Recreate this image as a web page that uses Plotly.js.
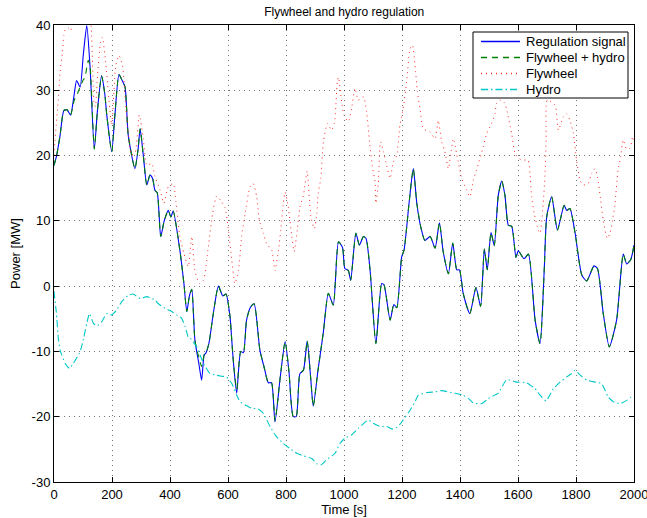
<!DOCTYPE html>
<html>
<head>
<meta charset="utf-8">
<script src="https://cdn.plot.ly/plotly-3.0.1.min.js"></script>
<style>html,body{margin:0;padding:0;background:#fff;}#chart{width:647px;height:518px;}</style>
</head>
<body>
<div id="chart"></div>
<script>
// Regulation signal
const tReg = [0,9,21,34,45,57,70,78,90,101,113,124,139,150,164,175,182,199,210,224,235,245,256,279,290,297,308,320,331,340,348,356,368,380,394,403,411,434,448,458,467,475,486,500,509,518,523,534,550,567,582,593,607,613,619,630,644,653,664,678,690,710,725,739,750,762,780,797,810,825,835,848,860,873,885,894,910,929,946,963,981,995,1003,1015,1023,1041,1053,1067,1076,1090,1110,1130,1138,1159,1172,1182,1199,1207,1225,1239,1251,1265,1279,1297,1314,1329,1342,1360,1375,1389,1398,1411,1434,1455,1471,1484,1494,1507,1518,1532,1544,1555,1567,1578,1593,1601,1621,1636,1659,1676,1690,1699,1716,1736,1759,1768,1779,1797,1820,1837,1862,1874,1894,1915,1940,1963,1975,1989,2000];
const reg = [18.5,20,23.1,26.9,27.0,26.2,29.5,31.5,30.5,35.4,39.9,33.8,21,27,32.2,29.5,26.2,20.6,26.2,32.4,31.5,30.5,23.1,18.0,21,24.1,20,15.5,17,16.5,14.7,14.3,7.6,10,11.6,10.6,11.5,5.5,0.4,-3.9,-1.5,-0.5,-8.3,-12,-14.4,-10.5,-10.3,-8.8,-4,0,-1.5,-1.2,-4.7,-8.3,-11.8,-16.4,-10,-10.2,-5.2,-3.2,-2.7,-9.8,-12.5,-14.8,-14.8,-20.8,-14,-8.5,-13,-20,-20,-13.4,-12.9,-8.4,-14,-18.4,-13,-7,-1.1,-2.9,6.8,5.9,2.7,2.4,0.9,8.1,6.3,7.6,7.3,2.4,-8.8,0.4,0.2,-5.2,-2.8,-3.3,4.5,5.5,13,18,12.7,9,7.0,7.6,5.8,9.7,5.3,1.9,6.6,2.5,2.5,-1.1,-4.2,-0.2,-3.1,5.7,2.5,8.2,6.2,13.9,16.1,13.9,9.3,9.2,4.4,5.4,4.2,4.9,-5.2,-8.8,2,10.6,13.7,8.6,12.4,11.6,11.9,8.1,1.7,0.8,3.1,2.7,-4.2,-9.3,-5.2,4.9,3.4,4.1,6.3];

// Flywheel + hydro
const tFH = [0,9,21,34,45,57,70,78,90,101,107,113,118,124,139,150,164,175,182,199,210,224,235,245,256,279,290,297,308,320,331,340,348,356,368,380,394,403,411,434,448,458,467,475,486,500,509,518,523,534,550,567,582,593,607,613,619,630,644,653,664,678,690,710,725,739,750,762,780,797,810,825,835,848,860,873,885,894,910,929,946,963,981,995,1003,1015,1023,1041,1053,1067,1076,1090,1110,1130,1138,1159,1172,1182,1199,1207,1225,1239,1251,1265,1279,1297,1314,1329,1342,1360,1375,1389,1398,1411,1434,1455,1471,1484,1494,1507,1518,1532,1544,1555,1567,1578,1593,1601,1621,1636,1659,1676,1690,1699,1716,1736,1759,1768,1779,1797,1820,1837,1862,1874,1894,1915,1940,1963,1975,1989,2000];
const fh = [18.5,20,23.1,26.9,27.0,26.2,28.5,29.2,30.5,31.6,32,33.5,34.6,33.8,21,27,32.2,29.5,26.2,20.6,26.2,32.4,31.5,30.5,23.1,18.0,21,24.1,20,15.5,17,16.5,14.7,14.3,7.6,10,11.6,10.6,11.5,5.5,0.4,-3.9,-1.5,-0.5,-8.3,-11,-12.3,-10.5,-10.3,-8.8,-4,0,-1.5,-1.2,-4.7,-8.3,-11.8,-15.8,-10,-10.2,-5.2,-3.2,-2.7,-9.8,-12.5,-14.8,-14.8,-20.6,-14,-8.5,-13,-20,-20,-13.4,-12.9,-8.4,-14,-18.4,-13,-7,-1.1,-2.9,6.8,5.9,2.7,2.4,0.9,8.1,6.3,7.6,7.3,2.4,-8.8,0.4,0.2,-5.2,-2.8,-3.3,4.5,5.5,13,18,12.7,9,7.0,7.6,5.8,9.7,5.3,1.9,6.6,2.5,2.5,-1.1,-4.2,-0.2,-3.1,5.7,2.5,8.2,6.2,13.9,16.1,13.9,9.3,9.2,4.4,5.4,4.2,4.9,-5.2,-8.8,2,10.6,13.7,8.6,12.4,11.6,11.9,8.1,1.7,0.8,3.1,2.7,-4.2,-9.3,-5.2,4.9,3.4,4.1,6.3];

// Flywheel
const tFly = [0,3,15,21,29,34,40,50,57,65,85,110,128,133,138,143,149,161,167,178,187,199,213,224,236,250,268,280,294,308,320,337,348,366,379,394,411,420,434,448,463,475,486,501,515,532,547,561,578,590,601,613,624,636,647,659,676,687,699,708,722,733,751,762,774,782,791,797,808,820,828,839,848,860,866,873,886,898,906,911,920,929,943,957,967,977,981,992,1000,1015,1026,1038,1049,1067,1078,1088,1099,1107,1110,1118,1126,1136,1147,1159,1170,1182,1193,1204,1216,1228,1236,1245,1253,1262,1274,1297,1314,1325,1337,1348,1360,1377,1389,1406,1423,1434,1446,1457,1480,1492,1509,1521,1526,1540,1555,1561,1578,1590,1605,1618,1635,1641,1647,1656,1670,1676,1687,1693,1697,1701,1728,1739,1756,1768,1779,1791,1802,1814,1825,1842,1854,1866,1874,1885,1894,1908,1917,1926,1934,1945,1954,1963,1973,1986,1995,2000];
const fly = [20,22.1,28.7,32.8,35.8,38.4,39.4,39.5,39.1,41,45,47,40,34,28.2,27.5,31.7,37.4,38.1,34.3,29.8,24.7,33.8,35.3,33.8,26.2,20.1,20.5,26.2,22.6,18.5,18.8,16.8,14.7,12.7,15.2,15.7,13,7.6,5,3,7.6,2.4,0.4,0.9,6,11.1,13.8,12.9,12,8.8,4.0,0.4,2.4,7.6,11.1,15.2,15.7,13.7,10.1,8.1,6.5,5.5,2.4,5.5,8.6,12.7,14.4,12.1,7.6,5.3,8.6,12.1,13.9,15.7,17.6,10.6,8.8,11.1,14.2,16.5,22.1,24.9,23.9,25,31.3,32.0,28.2,26.2,25.2,27.2,30.3,28.5,29.0,26.7,22.1,18.0,16.0,12.7,15.7,22.1,20.6,18.5,16.5,19,20.1,24.7,27.2,31.3,36.4,36.9,33.8,29.8,27.2,24.1,23.6,22.6,25.4,22.1,20.6,18,22.6,20.1,16.5,14.7,13.7,16.2,17.8,21.3,23.4,24.9,26.4,28,28.5,28,27,23.4,20.3,19.5,19.3,19.3,17.3,13.7,11.1,8.6,8.1,12.7,17,22.4,28.5,27.7,23.9,25.9,26.4,25.4,23.4,19.3,16.2,15.5,15.7,17.3,18,16.7,13.2,10.1,7.3,8.1,10.1,12.4,17.8,19.8,22.4,21.1,21.1,22.9,22];

// Hydro
const tHyd = [0,8,15,21,38,53,67,87,95,103,113,122,136,149,164,182,199,216,233,256,273,297,320,348,360,383,406,423,440,452,463,470,492,515,538,555,578,595,613,630,641,659,682,704,722,745,768,791,814,837,860,889,906,920,940,969,986,1003,1026,1049,1084,1101,1124,1147,1168,1187,1204,1228,1245,1256,1285,1314,1337,1360,1383,1411,1429,1446,1475,1498,1532,1561,1595,1630,1659,1676,1697,1722,1745,1768,1785,1797,1814,1837,1866,1888,1911,1929,1952,1975,1989,2000];
const hyd = [-0.8,-4,-8,-9.8,-11.8,-12.6,-11.8,-10.3,-9.3,-7.8,-5.7,-4.2,-5.7,-6.1,-5.5,-4.2,-4.4,-3.7,-2.4,-1.4,-1.2,-1.9,-1.6,-2.1,-2.7,-3.4,-3.9,-4.4,-4.9,-6.2,-7.8,-8,-9.3,-11.8,-13.4,-13.6,-13.8,-13.9,-14.9,-16.7,-17.7,-18.2,-18.7,-18.8,-19.5,-21.5,-23.1,-24.1,-24.9,-25.6,-26,-26.4,-27.2,-27.4,-26.6,-25.6,-24.1,-23.3,-22.8,-21.8,-20.5,-21,-21.5,-21.5,-21.9,-21.5,-20.5,-19,-17.7,-16.7,-16.3,-16.2,-16,-16.2,-16.4,-16.7,-17.2,-17.9,-18,-17.2,-16.4,-14.3,-14.7,-14.8,-15.7,-16.7,-17.6,-15.7,-14.7,-13.9,-13.4,-12.9,-13.6,-14.4,-14.7,-14.9,-17,-17.7,-18,-17.5,-17,-16.8];

const seriesNames = ['Regulation signal', 'Flywheel + hydro', 'Flywheel', 'Hydro'];
const xTicks = [0,200,400,600,800,1000,1200,1400,1600,1800,2000];
const yTicks = [-30,-20,-10,0,10,20,30,40];
const yTickText = ['-30','-20','-10','0','10','20','30','40'];

const FONT = 'Liberation Sans, Arial, Helvetica, sans-serif';
const colors = ['rgb(0,0,255)', 'rgb(0,128,0)', 'rgb(255,40,40)', 'rgb(0,200,200)'];
const dashes = ['solid', '6px,5px', '1px,4px', '7px,3px,1.5px,3px'];
const widths = [1.1, 1.1, 1, 1.1];

const traces = [
  {x: tReg, y: reg, name: seriesNames[0], mode: 'lines', line: {color: colors[0], width: widths[0], dash: dashes[0], shape: 'spline', smoothing: 0.6}},
  {x: tFH, y: fh, name: seriesNames[1], mode: 'lines', line: {color: colors[1], width: widths[1], dash: dashes[1], shape: 'spline', smoothing: 0.6}},
  {x: tFly, y: fly, name: seriesNames[2], mode: 'lines', line: {color: colors[2], width: widths[2], dash: dashes[2], shape: 'spline', smoothing: 0.6}},
  {x: tHyd, y: hyd, name: seriesNames[3], mode: 'lines', line: {color: colors[3], width: widths[3], dash: dashes[3], shape: 'spline', smoothing: 0.4}}
];

// Legend drawn on an overlay unit-square subplot (pixel -> fraction of the plot area)
const L = 54, R = 634, T = 25, B = 482;
const px = v => (v - L) / (R - L);
const py = v => (B - v) / (B - T);
traces.push({x: [px(473), px(628), px(628), px(473), px(473)], y: [py(98), py(98), py(32), py(32), py(98)],
  xaxis: 'x2', yaxis: 'y2', mode: 'lines', fill: 'toself', fillcolor: '#ffffff',
  line: {color: '#000000', width: 1}, showlegend: false, hoverinfo: 'skip'});
const rowY = [41.5, 57.5, 73.5, 89.5];
const annotations = [];
seriesNames.forEach((nm, i) => {
  traces.push({x: [px(481), px(520)], y: [py(rowY[i]), py(rowY[i])], xaxis: 'x2', yaxis: 'y2',
    mode: 'lines', line: {color: colors[i], width: 1.4, dash: dashes[i]}, showlegend: false, hoverinfo: 'skip'});
  annotations.push({xref: 'paper', yref: 'paper', x: px(524), y: py(rowY[i]), xanchor: 'left', yanchor: 'middle',
    text: nm, showarrow: false, font: {family: FONT, size: 13, color: '#000'}});
});

const axisCommon = {
  showline: true, mirror: 'ticks', linecolor: '#000', linewidth: 1,
  ticks: 'inside', ticklen: 5, tickcolor: '#000', tickwidth: 1,
  showgrid: true, gridcolor: 'rgba(0,0,0,0.55)', griddash: '1px,4px', gridwidth: 1,
  zeroline: false, ticklabeloverflow: 'allow',
  tickfont: {family: FONT, size: 13, color: '#000'}
};

const layout = {
  width: 647, height: 518,
  margin: {l: 54, r: 13, t: 25, b: 36},
  paper_bgcolor: '#fff', plot_bgcolor: '#fff',
  title: {text: 'Flywheel and hydro regulation', font: {family: FONT, size: 12, color: '#000'},
          x: 0.532, xanchor: 'center', y: 0.985, yanchor: 'top'},
  xaxis: Object.assign({}, axisCommon, {
    range: [0, 2000], tickvals: xTicks, ticktext: xTicks.map(String),
    title: {text: 'Time [s]', font: {family: FONT, size: 13, color: '#000'}, standoff: 2}
  }),
  yaxis: Object.assign({}, axisCommon, {
    range: [-30, 40], tickvals: yTicks, ticktext: yTickText,
    title: {text: 'Power [MW]', font: {family: FONT, size: 13, color: '#000'}, standoff: 8}
  }),
  xaxis2: {overlaying: 'x', range: [0, 1], visible: false, showgrid: false, zeroline: false},
  yaxis2: {overlaying: 'y', range: [0, 1], visible: false, showgrid: false, zeroline: false},
  showlegend: false,
  annotations: annotations
};

Plotly.newPlot('chart', traces, layout, {displayModeBar: false, staticPlot: true});
</script>
</body>
</html>
